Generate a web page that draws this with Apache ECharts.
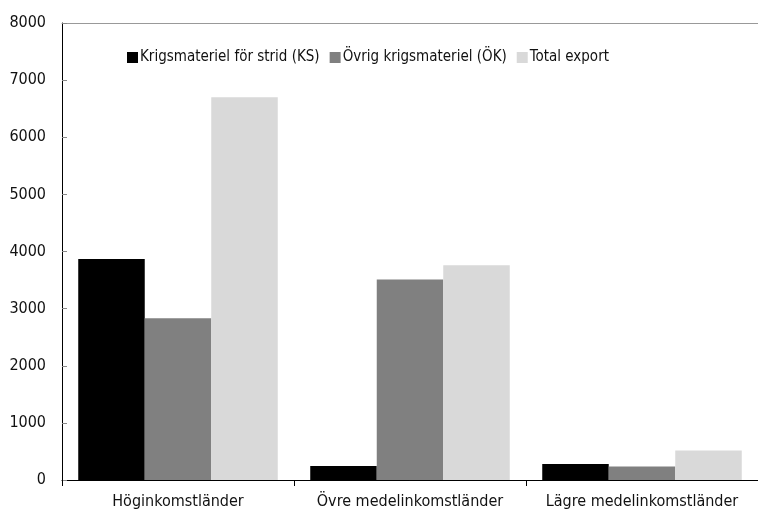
<!DOCTYPE html>
<html>
<head>
<meta charset="utf-8">
<script src="https://cdn.jsdelivr.net/npm/echarts@6/dist/echarts.min.js"></script>
<style>html,body{margin:0;padding:0;background:#fff}#c{width:758px;height:512px}</style>
</head>
<body>
<div id="c"></div>
<script>
var categories = ['Höginkomstländer', 'Övre medelinkomstländer', 'Lägre medelinkomstländer'];
var seriesNames = ['Krigsmateriel för strid (KS)', 'Övrig krigsmateriel (ÖK)', 'Total export'];
var ksValues = [3870, 245, 280];
var okValues = [2830, 3510, 235];
var totalValues = [6700, 3760, 515];

var FONT = '"DejaVu Sans Condensed", "Liberation Sans Narrow", sans-serif';
var chart = echarts.init(document.getElementById('c'));
chart.setOption({
  animation: false,
  textStyle: { fontFamily: FONT },
  legend: {
    left: 122, top: 45,
    itemWidth: 11, itemHeight: 11, itemGap: 10,
    icon: 'rect',
    textStyle: { fontFamily: FONT, fontSize: 15, color: '#111', padding: [0, 0, 0, -3] },
    data: seriesNames
  },
  grid: { left: 62, top: 23, width: 708, height: 457, containLabel: false },
  xAxis: [{
    type: 'category', data: categories,
    axisLine: { lineStyle: { color: '#000', width: 1 } },
    axisTick: { show: true, length: 6, lineStyle: { color: '#000' } },
    axisLabel: { fontFamily: FONT, fontSize: 16, color: '#111', margin: 14, interval: 0 }
  }, {
    type: 'category', data: categories, position: 'top',
    axisLine: { show: true, lineStyle: { color: '#999', width: 1 } },
    axisTick: { show: false }, axisLabel: { show: false }
  }],
  yAxis: {
    type: 'value', min: 0, max: 8000, interval: 1000,
    axisLine: { show: true, lineStyle: { color: '#000' } },
    axisTick: { show: true, inside: true, length: 5, lineStyle: { color: '#888' } },
    splitLine: { show: false },
    axisLabel: { fontFamily: FONT, fontSize: 16, color: '#111', margin: 16, formatter: function (v) { return String(v); } }
  },
  series: [
    { name: seriesNames[0], type: 'bar', data: ksValues, barGap: '0%', barCategoryGap: '14%', itemStyle: { color: '#000000' } },
    { name: seriesNames[1], type: 'bar', data: okValues, barGap: '0%', barCategoryGap: '14%', itemStyle: { color: '#808080' } },
    { name: seriesNames[2], type: 'bar', data: totalValues, barGap: '0%', barCategoryGap: '14%', itemStyle: { color: '#d9d9d9' } }
  ]
});
</script>
</body>
</html>
